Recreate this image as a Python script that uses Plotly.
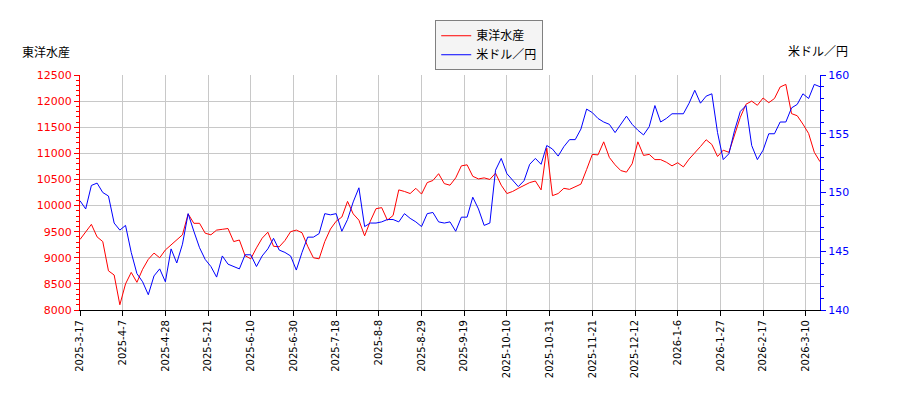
import plotly.graph_objects as go

# trading-day index (every second session) from 2025-03-17
day = list(range(0, 261, 2))

toyo_suisan = [
    9350, 9500, 9640, 9400, 9310, 8750, 8670, 8100, 8500, 8720,
    8530, 8780, 8970, 9090, 9000, 9150, 9250, 9340, 9440, 9840,
    9660, 9660, 9470, 9440, 9530, 9545, 9560, 9310, 9340, 9040,
    8980, 9190, 9375, 9490, 9220, 9210, 9330, 9500, 9530, 9480,
    9220, 9000, 8980, 9310, 9550, 9700, 9780, 10080, 9840, 9720,
    9420, 9700, 9940, 9960, 9720, 9810, 10300, 10270, 10230, 10330,
    10220, 10440, 10480, 10610, 10420, 10390, 10530, 10760, 10780, 10560,
    10510, 10530, 10500, 10620, 10390, 10230, 10270, 10330, 10380, 10440,
    10470, 10300, 11100, 10190, 10230, 10330, 10310, 10360, 10410, 10690,
    10980, 10970, 11220, 10920, 10780, 10670, 10640, 10800, 11220, 10960,
    10980, 10880, 10880, 10830, 10760, 10820, 10740, 10890, 11000, 11130,
    11260, 11170, 10940, 11060, 11020, 11340, 11690, 11940, 12000, 11920,
    12060, 11970, 12050, 12270, 12320, 11760, 11720, 11560, 11380, 11020,
    10840,
]

usd_jpy = [
    149.3, 148.6, 150.6, 150.8, 150.0, 149.7, 147.4, 146.8, 147.2, 144.9,
    143.1, 142.4, 141.3, 142.9, 143.5, 142.4, 145.2, 144.0, 145.6, 148.2,
    146.7, 145.3, 144.3, 143.7, 142.8, 144.6, 143.9, 143.7, 143.5, 144.7,
    144.7, 143.7, 144.6, 145.2, 146.1, 145.1, 144.9, 144.6, 143.4, 144.9,
    146.2, 146.2, 146.5, 148.2, 148.1, 148.2, 146.7, 147.7, 149.2, 150.4,
    147.1, 147.4, 147.4, 147.5, 147.7, 147.7, 147.5, 148.2, 147.8, 147.5,
    147.1, 148.2, 148.3, 147.5, 147.4, 147.5, 146.7, 147.9, 147.9, 149.6,
    148.6, 147.2, 147.4, 151.9, 152.9, 151.6, 151.0, 150.5, 151.0, 152.4,
    152.9, 152.4, 154.0, 153.7, 153.1, 153.9, 154.5, 154.5, 155.4, 157.1,
    156.8, 156.3, 156.0, 155.8, 155.1, 155.8, 156.5, 155.8, 155.3, 154.9,
    155.6, 157.4, 156.0, 156.3, 156.7, 156.7, 156.7, 157.6, 158.7, 157.6,
    158.2, 158.4, 155.1, 152.8, 153.3, 155.3, 156.9, 157.4, 154.0, 152.8,
    153.6, 155.0, 155.0, 156.0, 156.0, 157.2, 157.5, 158.4, 158.0, 159.2,
    159.0,
]

tick_pos = list(range(0, 256, 15))
tick_text = [
    "2025-3-17", "2025-4-7", "2025-4-28", "2025-5-21", "2025-6-10",
    "2025-6-30", "2025-7-18", "2025-8-8", "2025-8-29", "2025-9-19",
    "2025-10-10", "2025-10-31", "2025-11-21", "2025-12-12", "2026-1-6",
    "2026-1-27", "2026-2-17", "2026-3-10",
]

font = "DejaVu Sans, Noto Sans CJK JP, sans-serif"

fig = go.Figure()
fig.add_trace(go.Scatter(x=day, y=toyo_suisan, name="東洋水産", mode="lines",
                         line=dict(color="#ff0000", width=1)))
fig.add_trace(go.Scatter(x=day, y=usd_jpy, name="米ドル／円", mode="lines",
                         line=dict(color="#0000ff", width=1), yaxis="y2"))

# page body adds an 8px offset, margins compensate for it
fig.update_layout(
    width=900, height=400,
    margin=dict(l=72, r=88, t=62, b=98),
    paper_bgcolor="white", plot_bgcolor="white",
    font=dict(family=font, size=11, color="black"),
    showlegend=True,
    legend=dict(x=0.553, y=1.233, xanchor="center", yanchor="top",
                bgcolor="#f4f4f4", bordercolor="#808080", borderwidth=1,
                font=dict(size=12), itemwidth=30),
    xaxis=dict(range=[0, 260], tickvals=tick_pos, ticktext=tick_text,
               tickangle=-90, tickfont=dict(size=10),
               showgrid=True, gridcolor="#c8c8c8",
               showline=True, linecolor="black", ticks="outside",
               ticklen=5, tickcolor="black", zeroline=False,
               automargin=False),
    yaxis=dict(range=[8000, 12500], dtick=500, tickformat="d", showgrid=True,
               gridcolor="#c8c8c8", showline=True, linecolor="#ff0000",
               ticks="outside", ticklen=5, tickcolor="#ff0000",
               tickfont=dict(color="#ff0000"), zeroline=False,
               automargin=False,
               minor=dict(dtick=100, ticks="outside", ticklen=3,
                          tickcolor="#ff0000", showgrid=False)),
    yaxis2=dict(range=[140, 160], dtick=5, overlaying="y", side="right",
                showgrid=False, showline=True, linecolor="#0000ff",
                ticks="outside", ticklen=5, tickcolor="#0000ff",
                tickfont=dict(color="#0000ff"), zeroline=False,
                automargin=False,
                minor=dict(dtick=1, ticks="outside", ticklen=3,
                           tickcolor="#0000ff")),
    annotations=[
        dict(text="東洋水産", x=-0.081, y=1.097, xref="paper", yref="paper",
             xanchor="left", yanchor="middle", showarrow=False,
             font=dict(size=12)),
        dict(text="米ドル／円", x=1.04, y=1.097, xref="paper", yref="paper",
             xanchor="right", yanchor="middle", showarrow=False,
             font=dict(size=12)),
    ],
)

fig.write_html("out.html")
